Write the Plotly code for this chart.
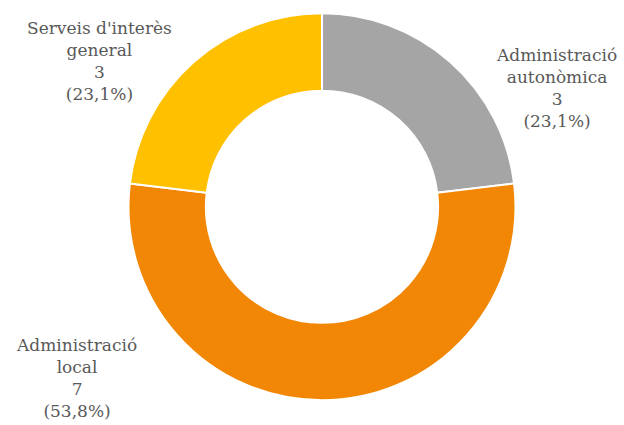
import plotly.graph_objects as go

labels = ["Administració autonòmica", "Administració local", "Serveis d'interès general"]
label_lines = ["Administració<br>autonòmica", "Administració<br>local", "Serveis d'interès<br>general"]
values = [3, 7, 3]
colors = ["#A5A5A5", "#F28705", "#FFC000"]

total = sum(values)

fig = go.Figure()
fig.add_trace(go.Pie(
    labels=labels,
    values=values,
    hole=0.6,
    sort=False,
    direction="clockwise",
    rotation=0,
    textinfo="none",
    marker=dict(colors=colors, line=dict(color="white", width=2)),
    domain=dict(x=[0.2059, 0.8261], y=[0.0576, 0.9694]),
    showlegend=False,
))

# label placement (paper coords) for each slice
label_pos = [(556 / 624, 1 - 88 / 425), (76 / 624, 1 - 378 / 425), (99 / 624, 1 - 61 / 425)]

for txt, v, (x, y) in zip(label_lines, values, label_pos):
    pct = "{:.1f}".format(v / total * 100).replace(".", ",")
    fig.add_annotation(
        x=x, y=y, xref="paper", yref="paper",
        xanchor="center", yanchor="middle",
        text="{}<br>{}<br>({}%)".format(txt, v, pct),
        showarrow=False, align="center",
        font=dict(family="DejaVu Serif", size=17, color="#595959"),
    )

fig.update_layout(
    width=624, height=425,
    margin=dict(l=0, r=0, t=0, b=0),
    paper_bgcolor="white",
    plot_bgcolor="white",
)

# drop the default page margin so the figure sits at the window corner
fig.write_html("out.html", config={"displayModeBar": False},
               post_script="document.body.style.margin='0';")
